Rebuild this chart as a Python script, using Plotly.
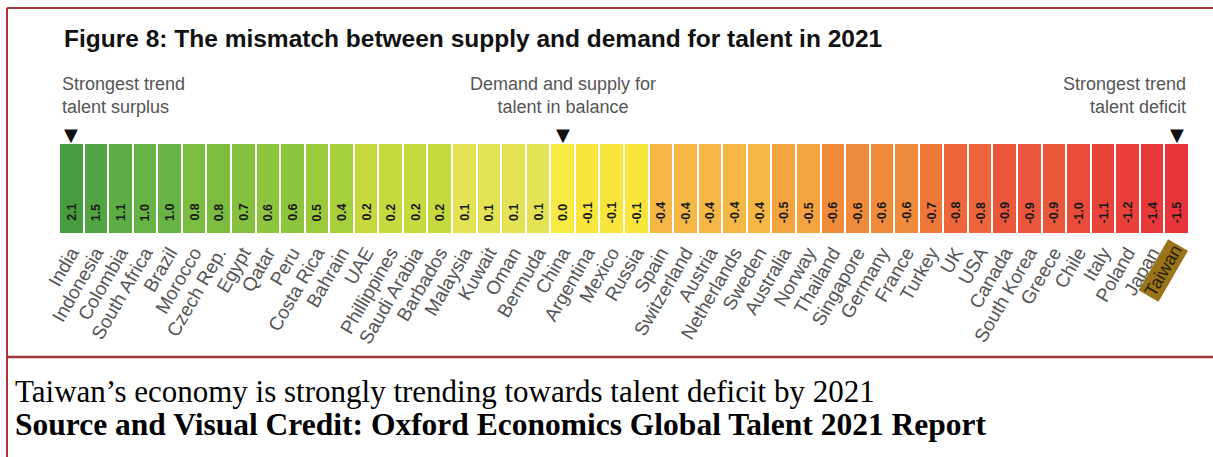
import plotly.graph_objects as go

# ---------------- data ----------------
countries = ["India", "Indonesia", "Colombia", "South Africa", "Brazil", "Morocco",
             "Czech Rep.", "Egypt", "Qatar", "Peru", "Costa Rica", "Bahrain", "UAE",
             "Phillippines", "Saudi Arabia", "Barbados", "Malaysia", "Kuwait", "Oman",
             "Bermuda", "China", "Argentina", "Mexico", "Russia", "Spain", "Switzerland",
             "Austria", "Netherlands", "Sweden", "Australia", "Norway", "Thailand",
             "Singapore", "Germany", "France", "Turkey", "UK", "USA", "Canada",
             "South Korea", "Greece", "Chile", "Italy", "Poland", "Japan", "Taiwan"]
values = [2.1, 1.5, 1.1, 1.0, 1.0, 0.8, 0.8, 0.7, 0.6, 0.6, 0.5, 0.4, 0.2, 0.2, 0.2, 0.2,
          0.1, 0.1, 0.1, 0.1, 0.0, -0.1, -0.1, -0.1, -0.4, -0.4, -0.4, -0.4, -0.4, -0.5,
          -0.5, -0.6, -0.6, -0.6, -0.6, -0.7, -0.8, -0.8, -0.9, -0.9, -0.9, -1.0, -1.1,
          -1.2, -1.4, -1.5]
marker_countries = ["India", "China", "Taiwan"]
highlight = "Taiwan"

title_text = "Figure 8: The mismatch between supply and demand for talent in 2021"
left_note = "Strongest trend<br>talent surplus"
mid_note = "Demand and supply for<br>talent in balance"
right_note = "Strongest trend<br>talent deficit"
caption_line1 = "Taiwan\u2019s economy is strongly trending towards talent deficit by 2021"
caption_line2 = "Source and Visual Credit: Oxford Economics Global Talent 2021 Report"

# ---------------- styling ----------------
W, H = 1213, 457
L, R, T, B = 59, 1189, 144, 233
ZMIN, ZMAX = -1.5, 2.1
color_anchors = [(-1.5, "#e8343a"), (-1.4, "#e8383a"), (-1.2, "#e9403a"), (-1.1, "#e9443a"),
                 (-1.0, "#ea4b3a"), (-0.9, "#eb573a"), (-0.8, "#ed653a"), (-0.7, "#ef773a"),
                 (-0.6, "#f08b3c"), (-0.5, "#f3a33f"), (-0.4, "#f5b845"), (-0.1, "#f8e63c"),
                 (0.0, "#f7ea42"), (0.1, "#e4e356"), (0.2, "#c6da3f"), (0.4, "#a7cf3b"),
                 (0.5, "#9bca3c"), (0.6, "#8ec53e"), (0.7, "#85c040"), (0.8, "#7cbc41"),
                 (1.0, "#68b346"), (1.1, "#5dad45"), (1.5, "#53a544"), (2.1, "#489b3e")]
colorscale = [[(v - ZMIN) / (ZMAX - ZMIN), c] for v, c in color_anchors]


def px(x):
    return (x - L) / (R - L)


def py(y):
    return (B - y) / (B - T)


fig = go.Figure()
fig.add_trace(go.Heatmap(
    z=[values], x=countries, y=[0], zmin=ZMIN, zmax=ZMAX,
    colorscale=colorscale, showscale=False, xgap=2, hoverinfo="skip"))

annotations = []
for c, v in zip(countries, values):
    annotations.append(dict(
        x=c, y=0, xref="x", yref="y", text=f"<b>{v:.1f}</b>", textangle=-90,
        showarrow=False, yshift=-24, font=dict(family="Liberation Sans", size=12.5, color="#1a1a1a")))

# triangle pointers
for c in marker_countries:
    annotations.append(dict(
        x=c, y=py(134), xref="x", yref="paper", text="\u25bc", showarrow=False,
        xanchor="center", yanchor="middle",
        font=dict(family="DejaVu Sans", size=18, color="#111111")))

note_font = dict(family="Liberation Sans", size=18, color="#555555")
note_y = py(95.5)
annotations += [
    dict(x=px(60), y=note_y, xref="paper", yref="paper", text=left_note, showarrow=False,
         xanchor="left", yanchor="middle", align="left", font=note_font),
    dict(x="China", y=note_y, xref="x", yref="paper", text=mid_note, showarrow=False,
         xanchor="center", yanchor="middle", align="center", font=note_font),
    dict(x=px(1188), y=note_y, xref="paper", yref="paper", text=right_note, showarrow=False,
         xanchor="right", yanchor="middle", align="right", font=note_font),
    dict(x=px(62), y=py(38), xref="paper", yref="paper", text=f"<b>{title_text}</b>",
         showarrow=False, xanchor="left", yanchor="middle",
         font=dict(family="Liberation Sans", size=24.5, color="#111111")),
    dict(x=px(13), y=py(391), xref="paper", yref="paper", text=caption_line1,
         showarrow=False, xanchor="left", yanchor="middle",
         font=dict(family="Liberation Serif", size=31, color="#000000")),
    dict(x=px(13), y=py(424), xref="paper", yref="paper", text=f"<b>{caption_line2}</b>",
         showarrow=False, xanchor="left", yanchor="middle",
         font=dict(family="Liberation Serif", size=31.5, color="#000000")),
    # highlighted label
    dict(x=highlight, y=0, xref="x", yref="y", text=highlight, textangle=-60,
         showarrow=False, xshift=-14, yshift=-82, bgcolor="#9a7418",
         font=dict(family="Liberation Sans", size=18, color="#2a1e05")),
]

border = "#a23a3c"
shapes = [
    dict(type="line", xref="paper", yref="paper", x0=px(7), x1=px(1220), y0=py(8), y1=py(8),
         line=dict(color=border, width=2)),
    dict(type="line", xref="paper", yref="paper", x0=px(7), x1=px(7), y0=py(8), y1=py(460),
         line=dict(color=border, width=2)),
    dict(type="line", xref="paper", yref="paper", x0=px(7), x1=px(1220), y0=py(357), y1=py(357),
         line=dict(color=border, width=2.5)),
]

fig.update_layout(
    width=W, height=H, margin=dict(l=L, r=W - R, t=T, b=H - B),
    paper_bgcolor="white", plot_bgcolor="white", showlegend=False,
    annotations=annotations, shapes=shapes,
    xaxis=dict(range=[-0.5, len(countries) - 0.5], showgrid=False, zeroline=False,
               tickangle=-60, ticks="", tickmode="array", tickvals=countries,
               ticktext=[c if c != highlight else "" for c in countries],
               ticklabelstandoff=4,
               tickfont=dict(family="Liberation Sans", size=19, color="#555555"),
               fixedrange=True),
    yaxis=dict(range=[-0.5, 0.5], visible=False, fixedrange=True),
)

fig.write_html("out.html")
